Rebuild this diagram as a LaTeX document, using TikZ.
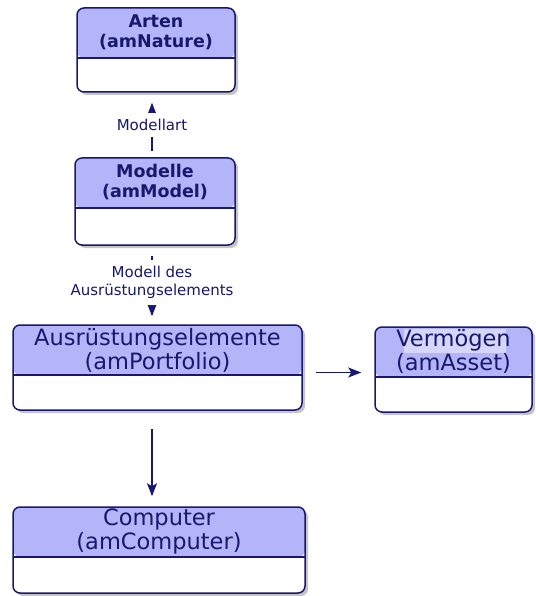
\documentclass[tikz,border=0pt]{standalone}
\usepackage{fontspec}
\setmainfont{DejaVu Sans}
\usetikzlibrary{shadows,arrows.meta}
\definecolor{navy}{RGB}{24,24,110}
\definecolor{hdr}{RGB}{180,180,248}
\definecolor{shadowgrey}{RGB}{140,140,140}
\tikzset{
  box/.style={draw=navy, line width=1.5pt, rounded corners=7pt, fill=white, inner sep=0pt,
    drop shadow={shadow xshift=3pt, shadow yshift=-3pt, fill=shadowgrey},
    path picture={
      \fill[hdr] (path picture bounding box.north west) rectangle ([yshift=-50pt]path picture bounding box.north east);
      \draw[navy, line width=1.5pt] ([yshift=-50pt]path picture bounding box.north west) -- ([yshift=-50pt]path picture bounding box.north east);
    }},
  bigtxt/.style={text=navy, align=center, font=\fontsize{22.5}{24}\selectfont, inner sep=0pt},
  boldtxt/.style={text=navy, align=center, font=\fontsize{17.5}{20.5}\selectfont\bfseries, inner sep=0pt},
  lbl/.style={text=navy, align=center, fill=white, font=\fontsize{15}{18}\selectfont, inner xsep=2pt, inner ysep=6pt},
  conn/.style={draw=navy, line width=1.4pt, -{Stealth[length=13pt,width=10pt,inset=3pt]}}
}
\begin{document}
\begin{tikzpicture}[x=1pt,y=-1pt]
\useasboundingbox (0,0) rectangle (535,596);
% boxes
\node[box, minimum width=158pt, minimum height=84pt] (arten) at (156,50) {};
\node[box, minimum width=160pt, minimum height=87pt] (modelle) at (155,201.5) {};
\node[box, minimum width=289pt, minimum height=85pt] (ausr) at (157.5,367.5) {};
\node[box, minimum width=157pt, minimum height=85pt] (verm) at (453.5,369.5) {};
\node[box, minimum width=292pt, minimum height=86pt] (comp) at (159,550) {};
% highlight behind Vermögen
\fill[hdr!55!white] (404,329) rectangle (506,353);
% header texts
\node[boldtxt] (artenT) at ([yshift=-25pt]arten.north) {Arten\\(amNature)};
\node[boldtxt] (modelleT) at ([yshift=-25pt]modelle.north) {Modelle\\(amModel)};
\node[bigtxt] (ausrT) at ([yshift=-26pt]ausr.north) {Ausrüstungselemente\\(amPortfolio)};
\node[bigtxt] (vermT) at ([yshift=-25pt]verm.north) {Vermögen\\(amAsset)};
\node[bigtxt] (compT) at ([yshift=-25pt]comp.north) {Computer\\(amComputer)};
% connectors
\draw[conn, shorten <=6pt, shorten >=10pt] ([xshift=-3pt]modelle.north) -- node[lbl] (l1) {Modellart} ([xshift=-4pt]arten.south);
\draw[conn, shorten <=10pt, shorten >=8pt] ([xshift=-3pt]modelle.south) -- node[lbl, pos=0.47] (l2) {Modell des\\Ausrüstungselements} ([xshift=-5.5pt]ausr.north);
\draw[conn, shorten <=13pt, shorten >=13pt] ([yshift=-5pt]ausr.east) -- ([yshift=-3pt]verm.west);
\draw[conn, shorten <=18pt, shorten >=10pt] ([xshift=-5.5pt]ausr.south) -- ([xshift=-7pt]comp.north);
\end{tikzpicture}
\end{document}
